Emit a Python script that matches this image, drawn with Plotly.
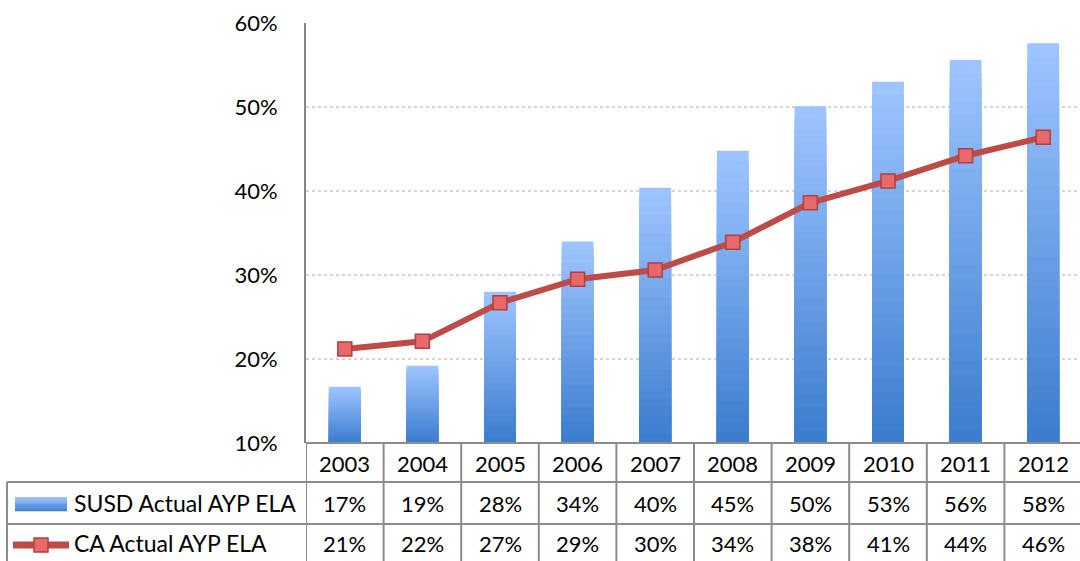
import plotly.graph_objects as go

years = ["2003", "2004", "2005", "2006", "2007", "2008", "2009", "2010", "2011", "2012"]
susd = [0.167, 0.192, 0.280, 0.340, 0.404, 0.448, 0.501, 0.530, 0.556, 0.576]
ca = [0.212, 0.221, 0.267, 0.295, 0.306, 0.339, 0.386, 0.412, 0.442, 0.464]
susd_labels = ["17%", "19%", "28%", "34%", "40%", "45%", "50%", "53%", "56%", "58%"]
ca_labels = ["21%", "22%", "27%", "29%", "30%", "34%", "38%", "41%", "44%", "46%"]
series_names = ["SUSD Actual AYP ELA", "CA Actual AYP ELA"]

W, H = 1080, 561
L, R, T, B = 306, 0, 23, 118
PW, PH = W - L - R, H - T - B
COLW = 77.6
FONT = "Lato"
FS = 22
GRID = "#8C8C8C"

def px(xpix):
    return (xpix - L) / PW

def py(ypix):
    return (H - B - ypix) / PH

xs = list(range(len(years)))
fig = go.Figure()

# gradient bars (overlaid slices, light top -> dark bottom)
top_c = (157, 196, 255)
bot_c = (60, 125, 206)
N = 28
base = 0.1
for k in range(N):
    t = k / (N - 1)
    c = tuple(round(top_c[i] + (bot_c[i] - top_c[i]) * t) for i in range(3))
    frac = 1 - k / N
    fig.add_trace(go.Bar(
        x=xs, y=[(v - base) * frac for v in susd], base=[base] * len(xs),
        width=0.41, marker=dict(color="rgb(%d,%d,%d)" % c, line=dict(width=0)),
        showlegend=False, hoverinfo="skip"))

fig.add_trace(go.Scatter(
    x=xs, y=ca, mode="lines+markers", name=series_names[1],
    line=dict(color="#BE4B48", width=6),
    marker=dict(symbol="square", size=14, color="#E8696A",
                line=dict(color="#B0403D", width=1.5)),
    showlegend=False))

shapes = []
lc = dict(color=GRID, width=2)
# horizontal table lines
shapes.append(dict(type="line", xref="paper", yref="paper", x0=0, x1=1, y0=0, y1=0, line=lc))
for ypix in (482, 524):
    shapes.append(dict(type="line", xref="paper", yref="paper", x0=px(7), x1=1,
                       y0=py(ypix), y1=py(ypix), line=lc))
# vertical table lines
shapes.append(dict(type="line", xref="paper", yref="paper", x0=px(7), x1=px(7),
                   y0=py(482), y1=py(H + 2), line=lc))
for k in range(len(years)):
    shapes.append(dict(type="line", xref="x", yref="paper", x0=k - 0.5, x1=k - 0.5,
                       y0=0, y1=py(H + 2), line=lc))

# legend key: gradient rectangle
M = 8
for i in range(M):
    t = i / (M - 1)
    c = tuple(round(top_c[j] + (bot_c[j] - top_c[j]) * t) for j in range(3))
    y0 = 497 + i * 14 / M
    shapes.append(dict(type="rect", xref="paper", yref="paper", x0=px(15), x1=px(67),
                       y0=py(y0), y1=py(y0 + 14 / M + 0.3), line=dict(width=0),
                       fillcolor="rgb(%d,%d,%d)" % c))
# legend key: line with square
shapes.append(dict(type="line", xref="paper", yref="paper", x0=px(13), x1=px(69),
                   y0=py(545), y1=py(545), line=dict(color="#BE4B48", width=7)))
shapes.append(dict(type="rect", xref="paper", yref="paper", x0=px(34), x1=px(48),
                   y0=py(538), y1=py(552), line=dict(color="#B0403D", width=1.5),
                   fillcolor="#E8696A"))

ann = []
tf = dict(family=FONT, size=FS, color="#000")
for i, yr in enumerate(years):
    for txt, ypix in ((yr, 463), (susd_labels[i], 503), (ca_labels[i], 543)):
        ann.append(dict(x=i, y=py(ypix), xref="x", yref="paper", text=txt, showarrow=False,
                        xanchor="center", yanchor="middle", font=tf))
for name, ypix in zip(series_names, (503, 543)):
    ann.append(dict(x=px(72), y=py(ypix), xref="paper", yref="paper", text=name,
                    showarrow=False, xanchor="left", yanchor="middle",
                    font=dict(family=FONT, size=23, color="#000")))

fig.update_layout(
    width=W, height=H,
    margin=dict(l=L, r=R, t=T, b=B, pad=0),
    paper_bgcolor="white", plot_bgcolor="white",
    barmode="overlay",
    shapes=shapes, annotations=ann,
    xaxis=dict(range=[-0.5, -0.5 + PW / COLW], showgrid=False, zeroline=False,
               showticklabels=False, showline=False, fixedrange=True),
    yaxis=dict(range=[0.1, 0.6], dtick=0.1, tick0=0.1, tickformat=".0%",
               showgrid=True, gridcolor="#D4D4D4", griddash="dot", gridwidth=1.5,
               zeroline=False, showline=True, linecolor="#868686", linewidth=2,
               ticks="", ticklabelstandoff=22,
               tickfont=dict(family=FONT, size=FS, color="#000")),
    font=dict(family=FONT),
)

fig.write_html("out.html", config={"displayModeBar": False},
               post_script="document.body.style.margin='0';document.body.style.overflow='hidden';")
